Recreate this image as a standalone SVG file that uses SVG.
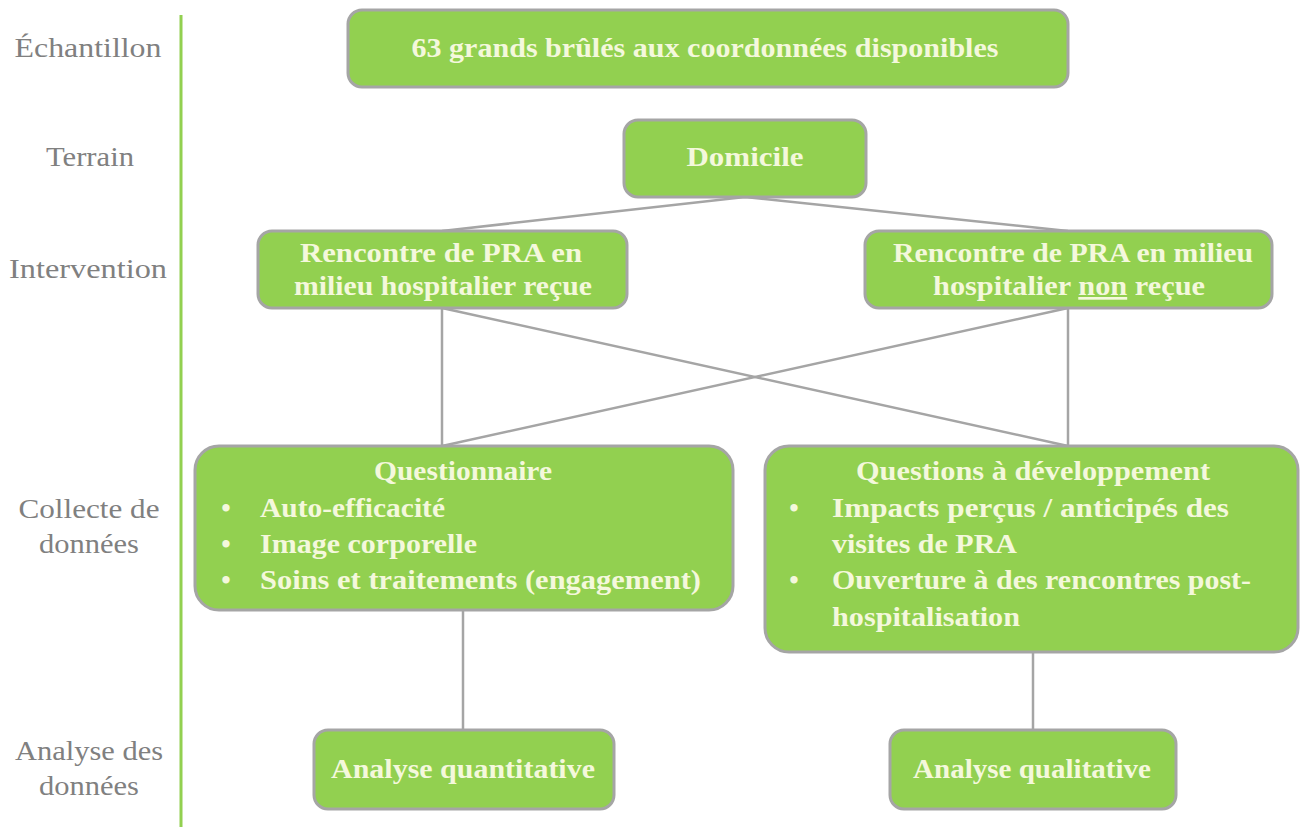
<svg xmlns="http://www.w3.org/2000/svg" width="1302" height="827" viewBox="0 0 1302 827">
<style>
.box{fill:#92d050;stroke:#a5a5a5;stroke-width:3}
.t{font-family:'Liberation Serif','DejaVu Serif',serif;font-size:27px;font-weight:bold;fill:#f4f8dc}
.c{text-anchor:middle}
.lab{font-family:'Liberation Serif','DejaVu Serif',serif;font-size:27px;fill:#808080;text-anchor:middle}
.ln{stroke:#a5a5a5;stroke-width:2.5;fill:none}
</style>
<rect width="1302" height="827" fill="#ffffff"/>
<line x1="181" y1="15" x2="181" y2="827" stroke="#92d050" stroke-width="3"/>
<g id="labels">
<text class="lab" x="88" y="57" textLength="147" lengthAdjust="spacingAndGlyphs">Échantillon</text>
<text class="lab" x="90" y="166" textLength="88" lengthAdjust="spacingAndGlyphs">Terrain</text>
<text class="lab" x="88" y="278" textLength="158" lengthAdjust="spacingAndGlyphs">Intervention</text>
<text class="lab" x="89" y="518" textLength="141" lengthAdjust="spacingAndGlyphs">Collecte de</text>
<text class="lab" x="89" y="553" textLength="100" lengthAdjust="spacingAndGlyphs">données</text>
<text class="lab" x="89" y="760" textLength="148" lengthAdjust="spacingAndGlyphs">Analyse des</text>
<text class="lab" x="89" y="795" textLength="100" lengthAdjust="spacingAndGlyphs">données</text>
</g>
<g id="connectors">
<polyline class="ln" points="442,231 745,197 1068,231"/>
<line class="ln" x1="442" y1="308" x2="442" y2="446"/>
<line class="ln" x1="1068" y1="308" x2="1068" y2="446"/>
<line class="ln" x1="442" y1="308" x2="1068" y2="446"/>
<line class="ln" x1="1068" y1="308" x2="442" y2="446"/>
<line class="ln" x1="463" y1="610" x2="463" y2="730"/>
<line class="ln" x1="1033" y1="652" x2="1033" y2="730"/>
</g>
<g id="n-echantillon">
<rect class="box" x="348" y="10" width="720" height="77" rx="14"/>
<text class="t c" x="705" y="57" textLength="587" lengthAdjust="spacingAndGlyphs">63 grands brûlés aux coordonnées disponibles</text>
</g>
<g id="n-domicile">
<rect class="box" x="624" y="120" width="242" height="77" rx="14"/>
<text class="t c" x="745" y="166" textLength="117" lengthAdjust="spacingAndGlyphs">Domicile</text>
</g>
<g id="n-pra-recue">
<rect class="box" x="258" y="231" width="369" height="77" rx="14"/>
<text class="t c" x="441" y="262" textLength="282" lengthAdjust="spacingAndGlyphs">Rencontre de PRA en</text>
<text class="t c" x="443" y="295" textLength="298" lengthAdjust="spacingAndGlyphs">milieu hospitalier reçue</text>
</g>
<g id="n-pra-non">
<rect class="box" x="865" y="231" width="407" height="77" rx="14"/>
<text class="t c" x="1073" y="262" textLength="360" lengthAdjust="spacingAndGlyphs">Rencontre de PRA en milieu</text>
<text class="t c" x="1069" y="295" textLength="272" lengthAdjust="spacingAndGlyphs">hospitalier <tspan text-decoration="underline">non</tspan> reçue</text>
</g>
<g id="n-questionnaire">
<rect class="box" x="195" y="446" width="538" height="164" rx="24"/>
<text class="t c" x="463" y="480" textLength="178" lengthAdjust="spacingAndGlyphs">Questionnaire</text>
<text class="t c" x="226" y="517">•</text><text class="t" x="260" y="517" textLength="185" lengthAdjust="spacingAndGlyphs">Auto-efficacité</text>
<text class="t c" x="226" y="553">•</text><text class="t" x="260" y="553" textLength="217" lengthAdjust="spacingAndGlyphs">Image corporelle</text>
<text class="t c" x="226" y="589">•</text><text class="t" x="260" y="589" textLength="441" lengthAdjust="spacingAndGlyphs">Soins et traitements (engagement)</text>
</g>
<g id="n-questions-dev">
<rect class="box" x="765" y="446" width="533" height="206" rx="24"/>
<text class="t c" x="1033" y="480" textLength="354" lengthAdjust="spacingAndGlyphs">Questions à développement</text>
<text class="t c" x="794" y="517">•</text><text class="t" x="832" y="517" textLength="397" lengthAdjust="spacingAndGlyphs">Impacts perçus / anticipés des</text>
<text class="t" x="832" y="553" textLength="185" lengthAdjust="spacingAndGlyphs">visites de PRA</text>
<text class="t c" x="794" y="589">•</text><text class="t" x="832" y="589" textLength="419" lengthAdjust="spacingAndGlyphs">Ouverture à des rencontres post-</text>
<text class="t" x="832" y="626" textLength="188" lengthAdjust="spacingAndGlyphs">hospitalisation</text>
</g>
<g id="n-quanti">
<rect class="box" x="314" y="730" width="300" height="79" rx="14"/>
<text class="t c" x="463" y="778" textLength="264" lengthAdjust="spacingAndGlyphs">Analyse quantitative</text>
</g>
<g id="n-quali">
<rect class="box" x="890" y="730" width="286" height="79" rx="14"/>
<text class="t c" x="1032" y="778" textLength="238" lengthAdjust="spacingAndGlyphs">Analyse qualitative</text>
</g>
</svg>
